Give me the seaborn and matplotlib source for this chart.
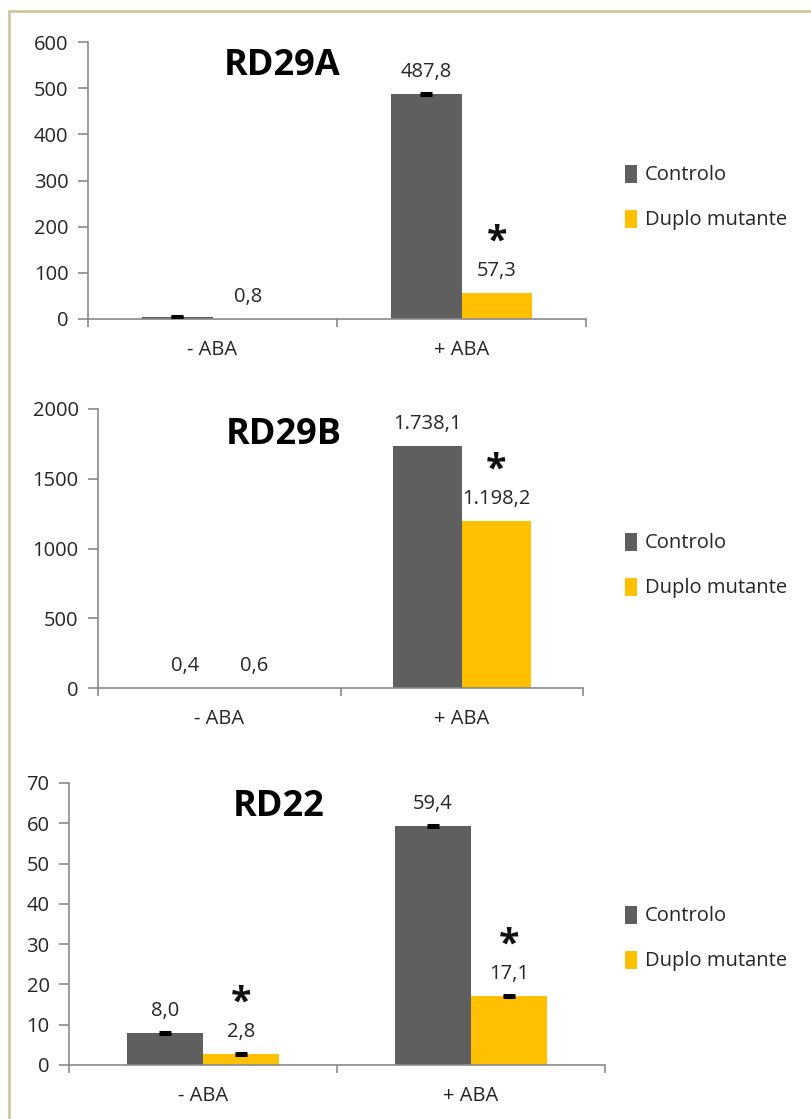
import numpy as np
import pandas as pd
import matplotlib
matplotlib.use('Agg')
import matplotlib.pyplot as plt
from matplotlib.lines import Line2D
from matplotlib.patches import Patch
import seaborn as sns

# Dados
categorias = ['- ABA', '+ ABA']
grupos = ['Controlo', 'Duplo mutante']

rd29a_controlo = [5.0, 487.8]
rd29a_duplo = [0.8, 57.3]
rd29a_err_controlo = [1.5, 2.0]
rd29a_err_duplo = [0.0, 0.0]
rd29a_rotulo_controlo = [False, True]
rd29a_rotulo_duplo = [True, True]
rd29a_asterisco = [False, True]
rd29a_yticks = [0, 100, 200, 300, 400, 500, 600]

rd29b_controlo = [0.4, 1738.1]
rd29b_duplo = [0.6, 1198.2]
rd29b_err_controlo = [0.0, 0.0]
rd29b_err_duplo = [0.0, 0.0]
rd29b_rotulo_controlo = [True, True]
rd29b_rotulo_duplo = [True, True]
rd29b_asterisco = [False, True]
rd29b_yticks = [0, 500, 1000, 1500, 2000]

rd22_controlo = [8.0, 59.4]
rd22_duplo = [2.8, 17.1]
rd22_err_controlo = [0.25, 0.25]
rd22_err_duplo = [0.25, 0.25]
rd22_rotulo_controlo = [True, True]
rd22_rotulo_duplo = [True, True]
rd22_asterisco = [True, True]
rd22_yticks = [0, 10, 20, 30, 40, 50, 60, 70]

cores = {'Controlo': '#5f5f5f', 'Duplo mutante': '#ffc000'}
cor_eixo = '#8a8a8a'
cor_texto = '#262626'

sns.set_style('white')
plt.rcParams['font.family'] = ['Open Sans', 'DejaVu Sans']

W, H = 811, 1119
fig = plt.figure(figsize=(W / 100, H / 100), dpi=100)


def formatar(v):
    s = f'{v:,.1f}'
    return s.replace(',', '#').replace('.', ',').replace('#', '.')


def painel(px, titulo, titulo_xy, leg_y, controlo, duplo, err_c, err_d,
           rot_c, rot_d, asterisco, yticks):
    x0, y_top, x1, y_bot = px
    ax = fig.add_axes([x0 / W, 1 - y_bot / H, (x1 - x0) / W, (y_bot - y_top) / H])
    df = pd.DataFrame({
        'condicao': categorias * 2,
        'grupo': [grupos[0]] * 2 + [grupos[1]] * 2,
        'valor': controlo + duplo,
    })
    sns.barplot(data=df, x='condicao', y='valor', hue='grupo', order=categorias,
                hue_order=grupos, palette=cores, width=0.57, errorbar=None,
                saturation=1, legend=False, linewidth=0, edgecolor='none', ax=ax)

    erros = [err_c, err_d]
    rotulos = [rot_c, rot_d]
    barras = list(ax.containers)
    for i, cont in enumerate(barras):
        for j, p in enumerate(cont.patches):
            xc = p.get_x() + p.get_width() / 2
            v = p.get_height()
            if erros[i][j] > 0:
                ax.errorbar(xc, v, yerr=erros[i][j], fmt='none', ecolor='black',
                            elinewidth=3, capsize=4.3, capthick=2.2, zorder=5)
            if rotulos[i][j]:
                ax.annotate(formatar(v), xy=(xc, v), xytext=(0, 12),
                            textcoords='offset points', ha='center', va='baseline',
                            fontsize=14.5, color=cor_texto)
            if i == 1 and asterisco[j]:
                ax.annotate('*', xy=(xc, v), xytext=(0, 29),
                            textcoords='offset points', ha='center', va='baseline',
                            fontsize=27, fontweight='bold', color='#111111')

    ax.set_ylim(yticks[0], yticks[-1])
    ax.set_xlim(-0.5, 1.5)
    ax.set_yticks(yticks)
    ax.set_xticks([0, 1])
    ax.set_xticklabels(categorias)
    ax.set_xticks([-0.5, 0.5, 1.5], minor=True)
    ax.set_xlabel('')
    ax.set_ylabel('')
    sns.despine(ax=ax)
    for s in ['left', 'bottom']:
        ax.spines[s].set_color(cor_eixo)
        ax.spines[s].set_linewidth(1.2)
    ax.tick_params(axis='y', which='major', direction='out', length=7, width=1.2,
                   color=cor_eixo, labelsize=14.5, labelcolor=cor_texto, pad=7, left=True)
    ax.tick_params(axis='x', which='major', length=0, labelsize=14.5,
                   labelcolor=cor_texto, pad=15)
    ax.tick_params(axis='x', which='minor', direction='out', length=6, width=1.2,
                   color=cor_eixo, bottom=True)

    fig.text(titulo_xy[0] / W, 1 - titulo_xy[1] / H, titulo, ha='center',
             va='baseline', fontsize=26, fontweight='bold', color='black')

    handles = [Patch(facecolor=cores[g], edgecolor='none', label=g) for g in grupos]
    ax.legend(handles=handles, loc='center left', bbox_to_anchor=(625 / W, 1 - leg_y / H),
              bbox_transform=fig.transFigure, frameon=False, fontsize=14.5,
              handlelength=0.62, handleheight=1.0, handletextpad=0.35,
              labelspacing=1.2, borderpad=0, borderaxespad=0,
              labelcolor=cor_texto)
    return ax


painel((88, 42, 586, 319), 'RD29A', (282, 75), 197.5,
       rd29a_controlo, rd29a_duplo, rd29a_err_controlo, rd29a_err_duplo,
       rd29a_rotulo_controlo, rd29a_rotulo_duplo, rd29a_asterisco, rd29a_yticks)
painel((98, 409, 583, 688), 'RD29B', (284, 444), 565.5,
       rd29b_controlo, rd29b_duplo, rd29b_err_controlo, rd29b_err_duplo,
       rd29b_rotulo_controlo, rd29b_rotulo_duplo, rd29b_asterisco, rd29b_yticks)
painel((69, 783, 605, 1065), 'RD22', (279, 816), 938.5,
       rd22_controlo, rd22_duplo, rd22_err_controlo, rd22_err_duplo,
       rd22_rotulo_controlo, rd22_rotulo_duplo, rd22_asterisco, rd22_yticks)

# moldura clara em cima e à esquerda
cor_moldura = '#cdc69f'
fig.add_artist(Line2D([9 / W, 810 / W], [1 - 11 / H, 1 - 11 / H], color=cor_moldura, lw=2))
fig.add_artist(Line2D([9 / W, 9 / W], [1 - 11 / H, 0], color=cor_moldura, lw=2))

fig.savefig('out.png', dpi=100)
